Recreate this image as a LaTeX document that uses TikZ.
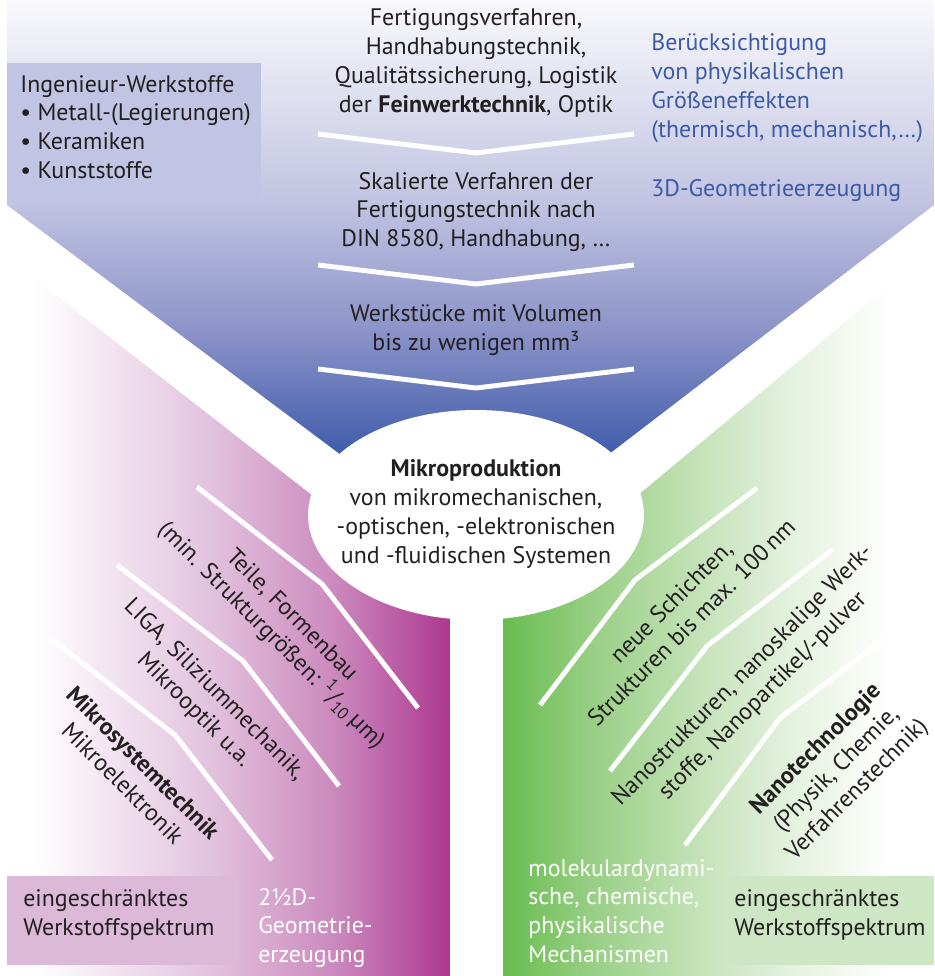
\documentclass[tikz,border=0pt]{standalone}
\usepackage{fontspec}
\setmainfont{PT Sans}
\usetikzlibrary{positioning}

\definecolor{ink}{HTML}{231F20}
\definecolor{textblue}{HTML}{3B5BA7}
\definecolor{blueA}{HTML}{3E5BA9}
\definecolor{blueM}{HTML}{8A92C8}
\definecolor{blueB}{HTML}{C2C4E2}
\definecolor{blueC}{HTML}{F9F9FC}
\definecolor{magA}{HTML}{AD3890}
\definecolor{magB}{HTML}{CB89BD}
\definecolor{magC}{HTML}{E2C2DE}
\definecolor{greenA}{HTML}{68BD4F}
\definecolor{greenB}{HTML}{9BD088}
\definecolor{greenC}{HTML}{C5E3B9}
\definecolor{greenD}{HTML}{E6F2E1}
\definecolor{boxblue}{HTML}{C1C4E2}
\definecolor{boxmag}{HTML}{DCB9D9}
\definecolor{boxgreen}{HTML}{CDE6C4}

\pgfdeclareverticalshading{blueshade}{100bp}{color(0bp)=(blueA); color(34bp)=(blueA); color(45bp)=(blueM); color(57bp)=(blueB); color(75bp)=(blueC); color(100bp)=(blueC)}
\pgfdeclarehorizontalshading{magshade}{100bp}{color(0bp)=(white); color(28bp)=(white); color(48bp)=(magC); color(62bp)=(magB); color(75bp)=(magA); color(100bp)=(magA)}
\pgfdeclarehorizontalshading{greenshade}{100bp}{color(0bp)=(greenA); color(25bp)=(greenA); color(36bp)=(greenB); color(48bp)=(greenC); color(59bp)=(greenD); color(70bp)=(white); color(100bp)=(white)}

\newcommand{\fsize}{\fontsize{13.6}{16.4}\selectfont}

\begin{document}
\begin{tikzpicture}[x=0.02cm, y=-0.02cm,
  every node/.style={font=\fsize, text=ink, inner sep=0pt, align=center},
  sep/.style={white, line width=2.8pt},
  notes/.style={align=left, anchor=west},
  downleft/.style={rotate=-45},
  upright/.style={rotate=45}]
\useasboundingbox (0,0) rectangle (934,976);

\shade[shading=blueshade] (7,0) -- (934,0) -- (934,205) -- (476,556) -- (7,205) -- cycle;
\shade[shading=magshade] (7,257) -- (450,603) -- (450,976) -- (7,976) -- cycle;
\shade[shading=greenshade] (934,248) -- (503,608) -- (503,976) -- (934,976) -- cycle;

\fill[boxblue] (7,63) rectangle (261,200);
\fill[boxmag] (7,876) rectangle (238,965);
\fill[boxgreen] (727,876) rectangle (934,965);

\foreach \y in {134,265,369}
  \draw[sep] (318,\y) -- (476,\y+19) -- (634,\y);

\draw[sep] (197,487) -- (322,584) -- (418,708);
\draw[sep] (117,565) -- (243,661) -- (339,786);
\draw[sep] (50,638) -- (175,735) -- (272,860);
\draw[sep] (757,488) -- (635,580) -- (540,705);
\draw[sep] (832,550) -- (707,646) -- (610,771);
\draw[sep] (905,623) -- (780,718) -- (685,845);

\fill[white] (476,515) ellipse [x radius=3.36cm, y radius=2.1cm];
\node (mikro) at (476,514)
  {\textbf{Mikroproduktion}\\von mikromechanischen,\\-optischen, -elektronischen\\und -fluidischen Systemen};

\node[notes] (werkstoffe) at (20,127)
  {Ingenieur-Werkstoffe\\• Metall-(Legierungen)\\• Keramiken\\• Kunststoffe};
\node (fertigung) at (476,63)
  {Fertigungsverfahren,\\Handhabungstechnik,\\Qualitätssicherung, Logistik\\der \textbf{Feinwerktechnik}, Optik};
\node (skaliert) at (476,212)
  {Skalierte Verfahren der\\Fertigungstechnik nach\\DIN 8580, Handhabung, …};
\node (volumen) at (476,330)
  {Werkstücke mit Volumen\\bis zu wenigen mm³};
\node[notes, text=textblue] (effekte) at (651,88)
  {Berücksichtigung\\von physikalischen\\Größeneffekten\\(thermisch, mechanisch,…)};
\node[notes, text=textblue] (geo3d) at (651,191) {3D-Geometrieerzeugung};

\node[downleft] (teile) at (281,626)
  {Teile, Formenbau\\(min. Strukturgrößen: \textsuperscript{1}/\textsubscript{10}\,µm)};
\node[downleft] (liga) at (204,700)
  {LIGA, Siliziummechanik,\\Mikrooptik u.a.};
\node[downleft] (mst) at (133,773)
  {\textbf{Mikrosystemtechnik}\\Mikroelektronik};

\node[upright] (schichten) at (681,612)
  {neue Schichten,\\Strukturen bis max. 100\,nm};
\node[upright] (nanostr) at (753,686)
  {Nanostrukturen, nanoskalige Werk-\\stoffe, Nanopartikel/-pulver};
\node[upright] (nanotech) at (837,770)
  {\textbf{Nanotechnologie}\\(Physik, Chemie,\\Verfahrenstechnik)};

\node[notes] (spektrumL) at (23,915) {eingeschränktes\\Werkstoffspektrum};
\node[notes, text=white] (geo25d) at (258,928) {2½D-\\Geometrie-\\erzeugung};
\node[notes, text=white] (molekular) at (528,911)
  {molekulardynami-\\sche, chemische,\\physikalische\\Mechanismen};
\node[notes] (spektrumR) at (734,915) {eingeschränktes\\Werkstoffspektrum};
\end{tikzpicture}
\end{document}
